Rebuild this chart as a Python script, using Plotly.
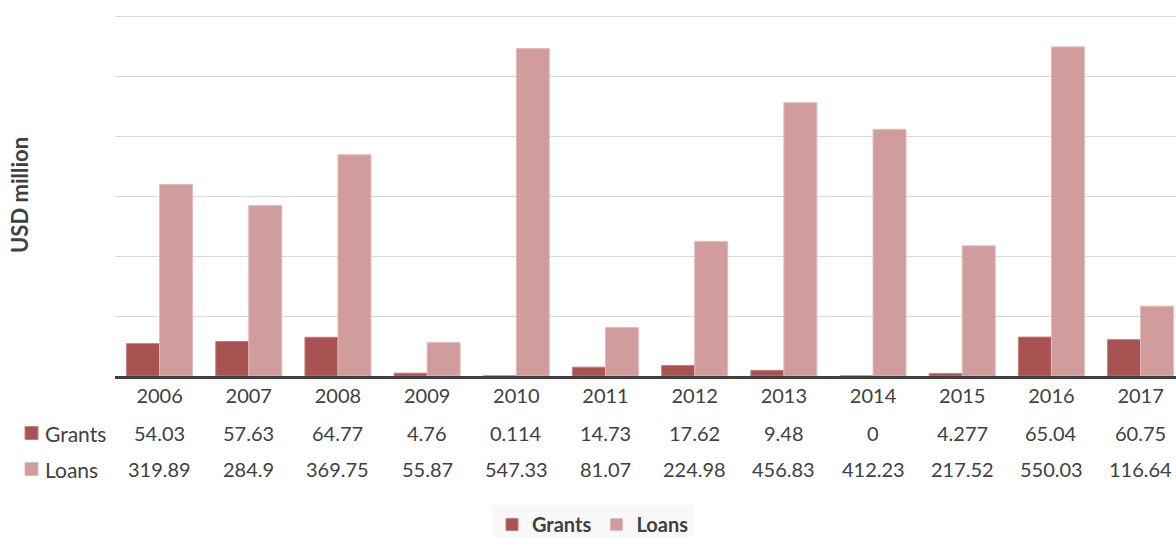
import plotly.graph_objects as go

years = ["2006", "2007", "2008", "2009", "2010", "2011",
         "2012", "2013", "2014", "2015", "2016", "2017"]
grants = [54.03, 57.63, 64.77, 4.76, 0.114, 14.73, 17.62, 9.48, 0, 4.277, 65.04, 60.75]
loans = [319.89, 284.9, 369.75, 55.87, 547.33, 81.07, 224.98, 456.83, 412.23, 217.52, 550.03, 116.64]

GRANT_C = "#a85252"
LOAN_C = "#d09c9c"
TXT = "#404040"
FONT = "Lato, 'Open Sans', sans-serif"

# plot area: left 115, width 1061, top 14, height 362 (y range 0-605)
W, H = 1176, 537
PH = 362
PX = lambda x: (x - 115) / 1061

fig = go.Figure()
fig.add_trace(go.Bar(x=years, y=grants, name="<b>Grants</b>", marker_color=GRANT_C,
                     marker_line=dict(color="#c47c7c", width=1)))
fig.add_trace(go.Bar(x=years, y=loans, name="<b>Loans</b>", marker_color=LOAN_C,
                     marker_line=dict(color="#e2bcbc", width=1)))

# data table under the axis (category axis -> annotation x as serial index)
ROW_Y = [-57 / PH, -93 / PH]
ann = []
for row_y, vals in zip(ROW_Y, [grants, loans]):
    for i, v in enumerate(vals):
        ann.append(dict(x=i, y=row_y, xref="x", yref="paper", text=f"{v:g}",
                        showarrow=False, yanchor="middle",
                        font=dict(size=20, color=TXT, family=FONT)))
for row_y, label in zip(ROW_Y, ["Grants", "Loans"]):
    ann.append(dict(x=PX(43), y=row_y, xref="paper", yref="paper", text=label,
                    showarrow=False, xanchor="left", yanchor="middle",
                    font=dict(size=21, color=TXT, family=FONT)))

shapes = []
for row_y, col, lc in zip(ROW_Y, [GRANT_C, LOAN_C], ["#c47c7c", "#e2bcbc"]):
    shapes.append(dict(type="rect", xref="paper", yref="paper",
                       x0=PX(25), x1=PX(38),
                       y0=row_y - 6.5 / PH, y1=row_y + 6.5 / PH,
                       fillcolor=col, line=dict(color=lc, width=1)))

fig.update_layout(
    width=W, height=H,
    margin=dict(l=115, r=0, t=14, b=161),
    paper_bgcolor="white", plot_bgcolor="white",
    barmode="group", bargap=0.26, bargroupgap=0.0,
    font=dict(family=FONT, color=TXT),
    xaxis=dict(type="category", range=[-0.5, 11.397], showline=True,
               linecolor="#404040", linewidth=3, ticks="",
               tickfont=dict(size=20, color=TXT), showgrid=False),
    yaxis=dict(range=[0, 605], dtick=100, showticklabels=False, showgrid=True,
               gridcolor="#d9d9d9", gridwidth=1, zeroline=False,
               title=dict(text="<b>USD million</b>", font=dict(size=22, color=TXT),
                          standoff=79)),
    legend=dict(orientation="h", xref="container", yref="container",
                x=593 / W, xanchor="center", y=1 - 505 / H, yanchor="top",
                bgcolor="#f8f8f8", font=dict(size=20, color=TXT, family=FONT),
                traceorder="normal"),
    annotations=ann,
    shapes=shapes,
)

# drop the default 8px page margin so the figure fills the window exactly
fig.write_html("out.html", config={"displayModeBar": False},
               post_script="document.body.style.margin='0';")
